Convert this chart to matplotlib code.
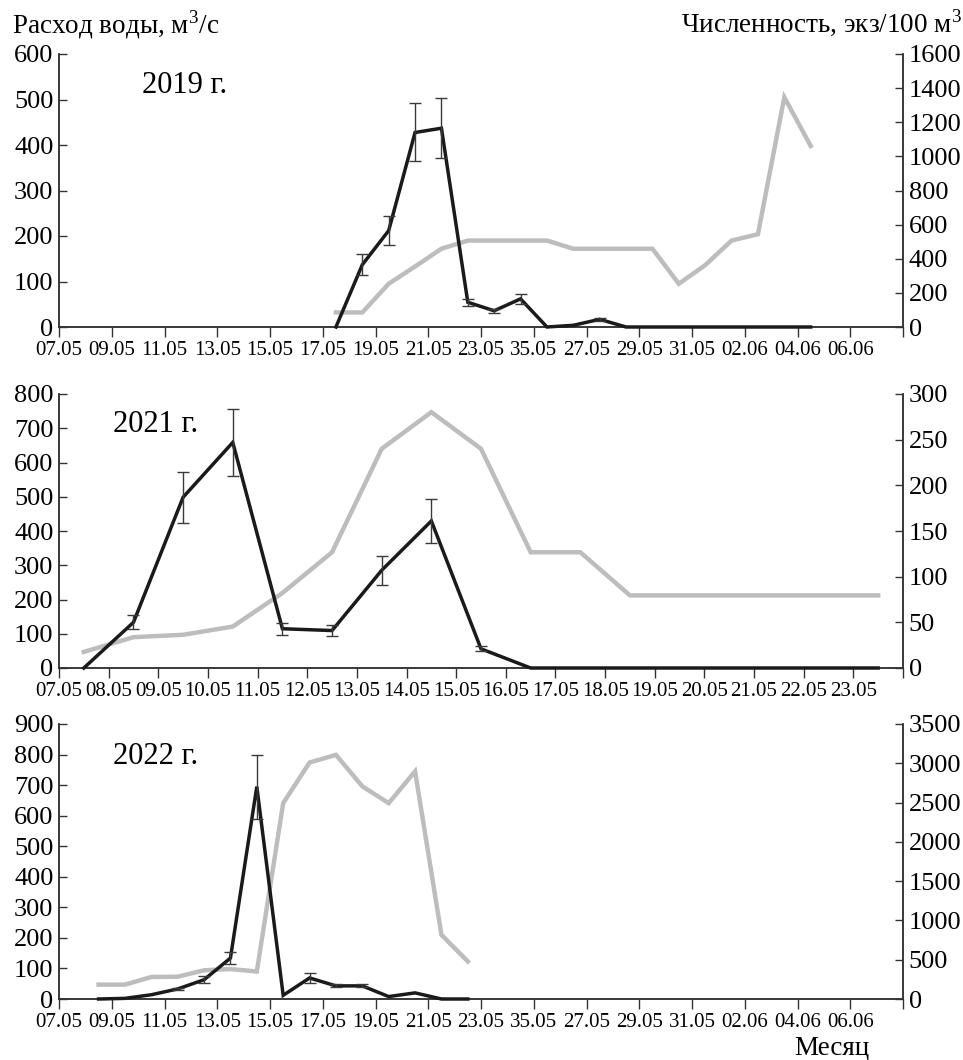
import matplotlib
matplotlib.use('Agg')
import matplotlib.pyplot as plt
import numpy as np

plt.rcParams['font.family'] = ['Liberation Serif', 'DejaVu Serif']
plt.rcParams['mathtext.fontset'] = 'custom'
plt.rcParams['mathtext.rm'] = 'Liberation Serif'

# daily categories, 07.05 .. 07.06
days_long = ['07.05', '08.05', '09.05', '10.05', '11.05', '12.05', '13.05', '14.05',
             '15.05', '16.05', '17.05', '18.05', '19.05', '20.05', '21.05', '22.05',
             '23.05', '24.05', '25.05', '26.05', '27.05', '28.05', '29.05', '30.05',
             '31.05', '01.06', '02.06', '03.06', '04.06', '05.06', '06.06', '07.06']
days_short = days_long[:17]

labels_long = ['07.05', '09.05', '11.05', '13.05', '15.05', '17.05', '19.05', '21.05',
               '23.05', '35.05', '27.05', '29.05', '31.05', '02.06', '04.06', '06.06']
labels_short = days_short

# 2019
first19 = '17.05'
flow19 = [32, 32, 95, 133, 172, 190, 190, 190, 190, 172, 172, 172, 172, 95, 136, 190, 204, 505, 398]
fish19 = [0, 365, 565, 1140, 1165, 145, 95, 165, 0, 10, 45, 0, 0, 0, 0, 0, 0, 0, 0]
err19 = [0, 60, 85, 170, 175, 20, 12, 30, 0, 0, 10, 0, 0, 0, 0, 0, 0, 0, 0]

# 2021
first21 = '07.05'
flow21 = [47, 90, 97, 121, 219, 338, 640, 747, 640, 338, 338, 212, 212, 212, 212, 212, 212]
fish21 = [0, 50, 187, 247, 43, 41, 107, 161, 21, 0, 0, 0, 0, 0, 0, 0, 0]
err21 = [0, 7.5, 28, 37, 6.5, 6, 16, 24, 2.6, 0, 0, 0, 0, 0, 0, 0, 0]

# 2022
first22 = '08.05'
flow22 = [47, 47, 72, 73, 94, 98, 90, 641, 774, 799, 696, 641, 745, 210, 123]
fish22 = [0, 8, 54, 128, 245, 521, 2703, 47, 268, 167, 167, 31, 78, 0, 0]
err22 = [0, 0, 0, 10, 47, 74, 408, 0, 58, 20, 20, 0, 0, 0, 0]

panels = [
    ('2019 г.', first19, flow19, fish19, err19, days_long, labels_long, 2, 600, 100, 1600, 200),
    ('2021 г.', first21, flow21, fish21, err21, days_short, labels_short, 1, 800, 100, 300, 50),
    ('2022 г.', first22, flow22, fish22, err22, days_long, labels_long, 2, 900, 100, 3500, 500),
]

# axes boxes in pixels (left, top, right, bottom)
W, H = 963, 1060
boxes = [(59, 54, 903, 327), (59, 394, 903, 668), (59, 724, 903, 999)]
year_pos = [(0.098, 0.857), (0.064, 0.861), (0.064, 0.855)]

fig = plt.figure(figsize=(W / 100, H / 100), dpi=100)
spine_col = '#333333'

for (title, first, flow, fish, err, days, labels, step, lmax, lstep, rmax, rstep), box, yp in zip(panels, boxes, year_pos):
    l, t, r, b = box
    ax = fig.add_axes([l / W, 1 - b / H, (r - l) / W, (b - t) / H])
    ax2 = ax.twinx()

    i0 = days.index(first)
    x = np.arange(i0, i0 + len(flow)) + 0.5

    ax.plot(x, flow, color='#bdbdbd', lw=3.2, solid_joinstyle='miter', clip_on=False, zorder=2)

    ax2.plot(x, fish, color='#1a1a1a', lw=2.5, solid_joinstyle='miter', clip_on=False, zorder=3)
    e = np.array(err, dtype=float)
    m = e > 0
    ax2.errorbar(x[m], np.array(fish)[m], yerr=e[m], fmt='none', ecolor='#3a3a3a',
                 elinewidth=1.0, capsize=4, capthick=1.0, zorder=4)

    n = len(days)
    ax.set_xlim(0, n)
    ax.set_xticks(np.arange(0, n + 1, step))
    ax.set_xticklabels(labels + [''], fontsize=15)
    ax.set_ylim(0, lmax)
    ax.set_yticks(np.arange(0, lmax + 1, lstep))
    ax2.set_ylim(0, rmax)
    ax2.set_yticks(np.arange(0, rmax + 1, rstep))

    ax.tick_params(axis='x', direction='out', length=7, width=1, color=spine_col, pad=3)
    ax.tick_params(axis='y', direction='in', length=6, width=1, color=spine_col, labelsize=19, pad=4)
    ax2.tick_params(axis='y', direction='in', length=6, width=1, color=spine_col, labelsize=19, pad=4)

    for a in (ax, ax2):
        a.spines['top'].set_visible(False)
        for s in ('left', 'right', 'bottom'):
            a.spines[s].set_color(spine_col)
            a.spines[s].set_linewidth(1.1)

    ax.text(yp[0], yp[1], title, transform=ax.transAxes, fontsize=22, va='baseline', ha='left')

fig.text(12 / W, 1 - 33 / H, 'Расход воды, м$^3$/с', fontsize=19.5, va='baseline', ha='left')
fig.text(0.999, 1 - 33 / H, 'Численность, экз/100 м$^3$', fontsize=19.5, va='baseline', ha='right')
fig.text(832 / W, 1 - 1054 / H, 'Месяц', fontsize=19.5, va='baseline', ha='center')

fig.savefig('out.png', dpi=100)
